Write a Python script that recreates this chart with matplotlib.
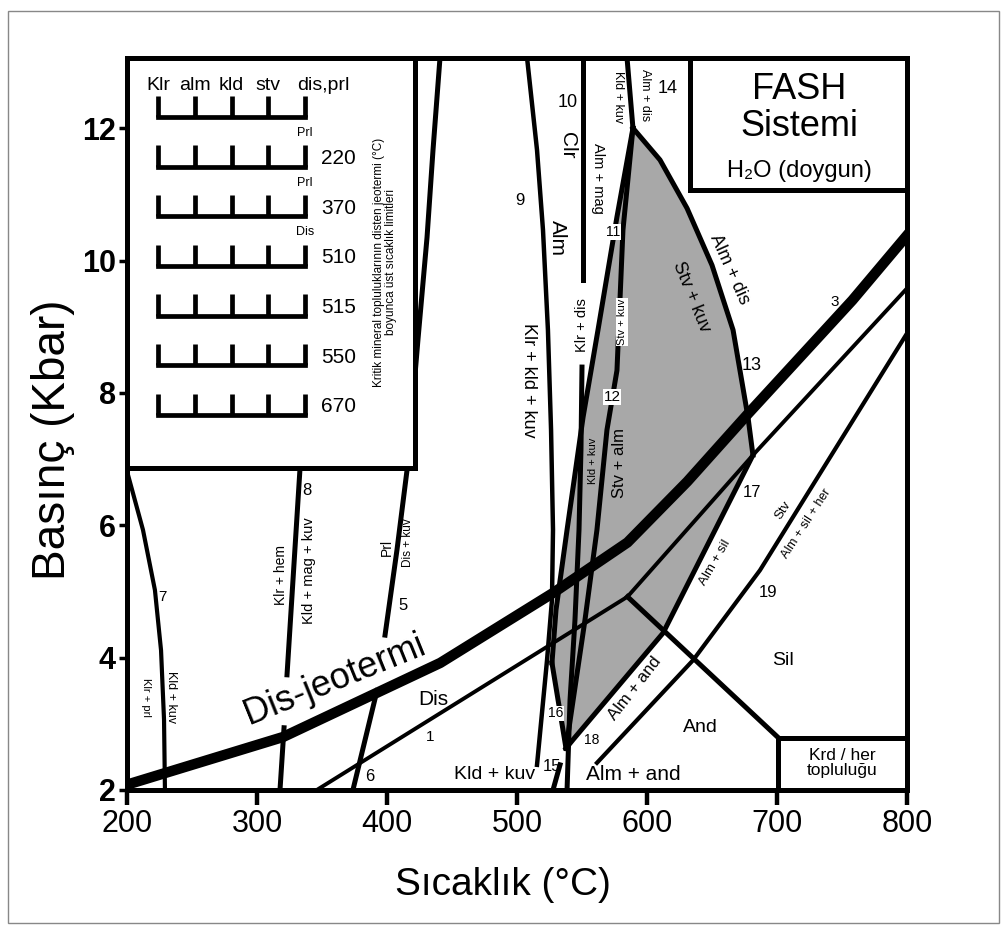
import numpy as np
import matplotlib
matplotlib.use('Agg')
import matplotlib.pyplot as plt
from matplotlib.patches import Polygon, Rectangle

plt.rcParams['font.family'] = ['Liberation Sans', 'DejaVu Sans']

# reaction curves, T (degC) / P (kbar)
geo_T = [200, 320, 441, 528, 585, 631, 678, 758, 800]
geo_P = [2.08, 2.80, 3.92, 4.98, 5.74, 6.66, 7.69, 9.40, 10.38]

ky_and_T = [346, 585]
ky_and_P = [2.0, 4.92]
ky_sil_T = [585, 681.5, 800]
ky_sil_P = [4.92, 7.06, 9.58]
and_sil_T = [585, 701]
and_sil_P = [4.92, 2.79]

r5_T = [398.5, 407.7, 415.4, 423.8, 430.8, 435.4, 440.8]
r5_P = [4.34, 5.63, 6.83, 8.80, 10.35, 11.67, 13.07]
r6_T = [373.8, 392.3]
r6_P = [2.0, 3.50]
r7_T = [200.8, 212.3, 221.5, 226.2, 228.5, 229.2]
r7_P = [6.76, 5.93, 5.02, 4.11, 3.06, 2.0]
r8a_T = [317.7, 320.8]
r8a_P = [2.0, 2.94]
r8b_T = [323.1, 333.1, 336.0]
r8b_P = [3.74, 6.86, 7.6]
r9_T = [507.7, 515.4, 520.0, 523.8, 526.2, 527.7, 526.9, 523.1, 515.4]
r9_P = [13.07, 11.67, 10.46, 8.95, 7.44, 5.93, 4.87, 3.96, 2.38]
r10a_T = [550.8, 550.8]
r10a_P = [13.07, 9.70]
r10b_T = [550.0, 549.2, 547.7, 544.6, 540.8, 538.5]
r10b_P = [8.39, 7.14, 5.93, 4.57, 3.36, 2.0]
r11_T = [589.2, 576.9, 562.3, 550.8, 538.5, 530.0, 526.9]
r11_P = [12.00, 10.66, 8.95, 7.63, 5.93, 4.72, 3.92]
r12_T = [589.2, 581.5, 576.9, 569.2, 561.5, 552.3, 537.7]
r12_P = [12.00, 10.46, 8.34, 7.44, 5.93, 4.57, 2.63]
r13_T = [589.2, 610.0, 630.8, 650.0, 666.2, 677.7, 681.5]
r13_P = [12.00, 11.52, 10.79, 9.93, 8.95, 7.63, 7.06]
r14_T = [584.6, 589.2]
r14_P = [13.07, 12.00]
r15_T = [527.7, 533.1]
r15_P = [2.0, 2.38]
r16_T = [526.9, 537.7]
r16_P = [3.92, 2.63]
r18_T = [681.5, 612.3, 543.1, 537.7]
r18_P = [7.06, 4.37, 2.76, 2.63]
r19_T = [561.5, 635.4, 686.9, 800]
r19_P = [2.41, 3.96, 5.32, 8.90]
krd_T = [701, 701, 800]
krd_P = [2.0, 2.79, 2.79]

# inset: upper temperature limits of the critical assemblages
inset_minerals = ['Klr', 'alm', 'kld', 'stv', 'dis,prl']
inset_limits = [None, '220', '370', '510', '515', '550', '670']
inset_marks = [None, 'Prl', 'Prl', 'Dis', None, None, None]

# (text, T, P, size, rotation, white background)
labels = [
    ('7', 226.9, 4.92, 11, 0, False),
    ('Klr + prl', 214.6, 3.40, 8, -90, False),
    ('Kld + kuv', 233.8, 3.40, 9, -90, False),
    ('8', 338.5, 6.53, 12, 0, False),
    ('Klr + hem', 318.5, 5.25, 10, 90, False),
    ('Kld + mag + kuv', 340.0, 5.31, 10.5, 90, False),
    ('Prl', 400.0, 5.66, 10, 90, False),
    ('Dis + kuv', 416.2, 5.73, 8.5, 90, False),
    ('5', 412.3, 4.79, 12, 0, False),
    ('6', 386.9, 2.20, 12, 0, False),
    ('1', 433.1, 2.80, 11, 0, False),
    ('Dis', 435.4, 3.36, 15, 0, False),
    ('Dis-jeotermi', 360.0, 3.66, 26, 22, False),
    ('9', 502.3, 10.91, 12, 0, False),
    ('10', 539.2, 12.39, 13, 0, False),
    ('Clr', 538.5, 11.74, 15, -90, False),
    ('Alm', 530.8, 10.34, 15, -90, False),
    ('Klr + kld + kuv', 508.5, 8.19, 13, -90, False),
    ('Alm + mag', 562.3, 11.24, 10.5, -90, False),
    ('Kld + kuv', 577.7, 12.47, 9, -90, False),
    ('Alm + dis', 598.5, 12.50, 9, -90, False),
    ('14', 616.2, 12.60, 13, 0, False),
    ('11', 573.8, 10.43, 10, 0, True),
    ('Klr + dis', 550.0, 9.02, 10.5, 90, False),
    ('Stv + kuv', 580.8, 9.07, 8, 90, True),
    ('12', 573.1, 7.94, 11, 0, True),
    ('Kld + kuv', 558.5, 6.98, 8, 90, False),
    ('Stv + alm', 578.5, 6.94, 12, 90, False),
    ('Alm + dis', 663.0, 9.86, 13, -66, False),
    ('Stv + kuv', 634.0, 9.45, 13, -68, False),
    ('13', 680.8, 8.42, 13, 0, False),
    ('3', 744.6, 9.37, 11, 0, False),
    ('17', 680.8, 6.49, 12, 0, False),
    ('Stv', 704.6, 6.23, 9.5, 57, False),
    ('Alm + sil + her', 722.3, 6.03, 9, 57, False),
    ('19', 693.1, 4.99, 12, 0, False),
    ('Sil', 704.6, 3.96, 14, 0, False),
    ('And', 640.8, 2.94, 14, 0, False),
    ('Alm + sil', 652.3, 5.44, 9.5, 60, False),
    ('Alm + and', 590.8, 3.54, 12, 52, False),
    ('18', 557.7, 2.76, 10, 0, False),
    ('16', 530.0, 3.16, 10, 0, True),
    ('15', 526.9, 2.35, 12, 0, False),
    ('Kld + kuv', 483.1, 2.24, 14, 0, False),
    ('Alm + and', 589.2, 2.23, 15, 0, False),
    ('Krd / her\ntopluluğu', 750.0, 2.41, 12.5, 0, False),
]

fig = plt.figure(figsize=(10.07, 9.34), dpi=100)
fig.patches.append(Rectangle((0.008, 0.012), 0.984, 0.976, transform=fig.transFigure,
                             fill=False, ec='#888888', lw=1))
ax = fig.add_axes([0.1261, 0.1542, 0.7746, 0.7837])
ax.set_xlim(200, 800)
ax.set_ylim(2, 13.06)

# staurolite field
poly_T = r13_T + r18_T + r16_T[::-1] + r11_T[::-1]
poly_P = r13_P + r18_P + r16_P[::-1] + r11_P[::-1]
ax.add_patch(Polygon(np.column_stack([poly_T, poly_P]), closed=True,
                     fc='#a8a8a8', ec='none', zorder=1))

thick = 3.6
curves = [
    (r5_T, r5_P, thick), (r6_T, r6_P, thick), (r7_T, r7_P, 3.0),
    (r8a_T, r8a_P, thick), (r8b_T, r8b_P, thick), (r9_T, r9_P, 3.2),
    (r10a_T, r10a_P, thick), (r10b_T, r10b_P, thick), (r11_T, r11_P, thick),
    (r12_T, r12_P, thick), (r13_T, r13_P, thick), (r14_T, r14_P, thick),
    (r15_T, r15_P, thick), (r16_T, r16_P, thick), (r18_T, r18_P, thick),
    (r19_T, r19_P, 3.0), (ky_and_T, ky_and_P, 2.8), (ky_sil_T, ky_sil_P, 2.8),
    (and_sil_T, and_sil_P, thick), (krd_T, krd_P, thick),
]
for T, P, lw in curves:
    ax.plot(T, P, color='black', lw=lw, solid_joinstyle='round', zorder=3)
ax.plot(geo_T, geo_P, color='black', lw=7.5, solid_joinstyle='round', zorder=3)

for s, T, P, size, rot, bg in labels:
    kw = {}
    if bg:
        kw['bbox'] = dict(fc='white', ec='none', pad=0.5)
    ax.text(T, P, s, fontsize=size, rotation=rot, ha='center', va='center',
            rotation_mode='anchor', multialignment='center', linespacing=1.05,
            zorder=5, **kw)

# FASH box
ax.add_patch(Rectangle((633, 11.06), 167, 2.0, fc='white', ec='black',
                       lw=thick, zorder=4, clip_on=False))
ax.text(717, 12.59, 'FASH', fontsize=26, ha='center', va='center', zorder=5)
ax.text(717, 12.02, 'Sistemi', fontsize=26, ha='center', va='center', zorder=5)
ax.text(717, 11.35, 'H₂O (doygun)', fontsize=17, ha='center', va='center', zorder=5)

for sp in ax.spines.values():
    sp.set_linewidth(thick)
ax.set_xticks(np.arange(200, 801, 100))
ax.set_yticks(np.arange(2, 13, 2))
ax.tick_params(axis='x', direction='out', length=11, width=3.2, labelsize=22, pad=3)
ax.tick_params(axis='y', direction='out', length=6, width=2.5, labelsize=22, pad=2)
for t in ax.get_yticklabels():
    t.set_fontweight('bold')
ax.set_xlabel('Sıcaklık (°C)', fontsize=28)
ax.xaxis.set_label_coords(0.482, -0.130)
ax.xaxis.label.set_verticalalignment('center')
ax.set_ylabel('Basınç (Kbar)', fontsize=33)
ax.yaxis.set_label_coords(-0.095, 0.478)
ax.yaxis.label.set_verticalalignment('center')

# inset table
ins = fig.add_axes([0.1261, 0.4989, 0.2860, 0.4390])
ins.set_xlim(0, 1)
ins.set_ylim(0, 1)
ins.set_xticks([])
ins.set_yticks([])
for sp in ins.spines.values():
    sp.set_linewidth(thick)
tick_x = np.linspace(0.108, 0.618, len(inset_minerals))
row_y = np.linspace(0.856, 0.129, len(inset_limits))
for y, lim, mark in zip(row_y, inset_limits, inset_marks):
    ins.plot([tick_x[0], tick_x[-1]], [y, y], color='black', lw=3.4,
             solid_capstyle='projecting')
    for x in tick_x:
        ins.plot([x, x], [y, y + 0.052], color='black', lw=3.4,
                 solid_capstyle='butt')
    if lim:
        ins.text(0.675, y + 0.02, lim, fontsize=15, ha='left', va='center')
    if mark:
        ins.text(tick_x[-1], y + 0.082, mark, fontsize=9, ha='center', va='center')
for x, name in zip(tick_x, inset_minerals):
    if name == inset_minerals[-1]:
        ins.text(x - 0.028, 0.934, name, fontsize=14, ha='left', va='center')
    else:
        ins.text(x, 0.934, name, fontsize=14, ha='center', va='center')
ins.text(0.896, 0.502, 'Kritik mineral topluluklarının disten jeotermi (°C)\n'
         'boyunca üst sıcaklık limitleri', fontsize=8.5, rotation=90,
         ha='center', va='center', multialignment='center', linespacing=1.05)

fig.savefig('out.png', dpi=100)
